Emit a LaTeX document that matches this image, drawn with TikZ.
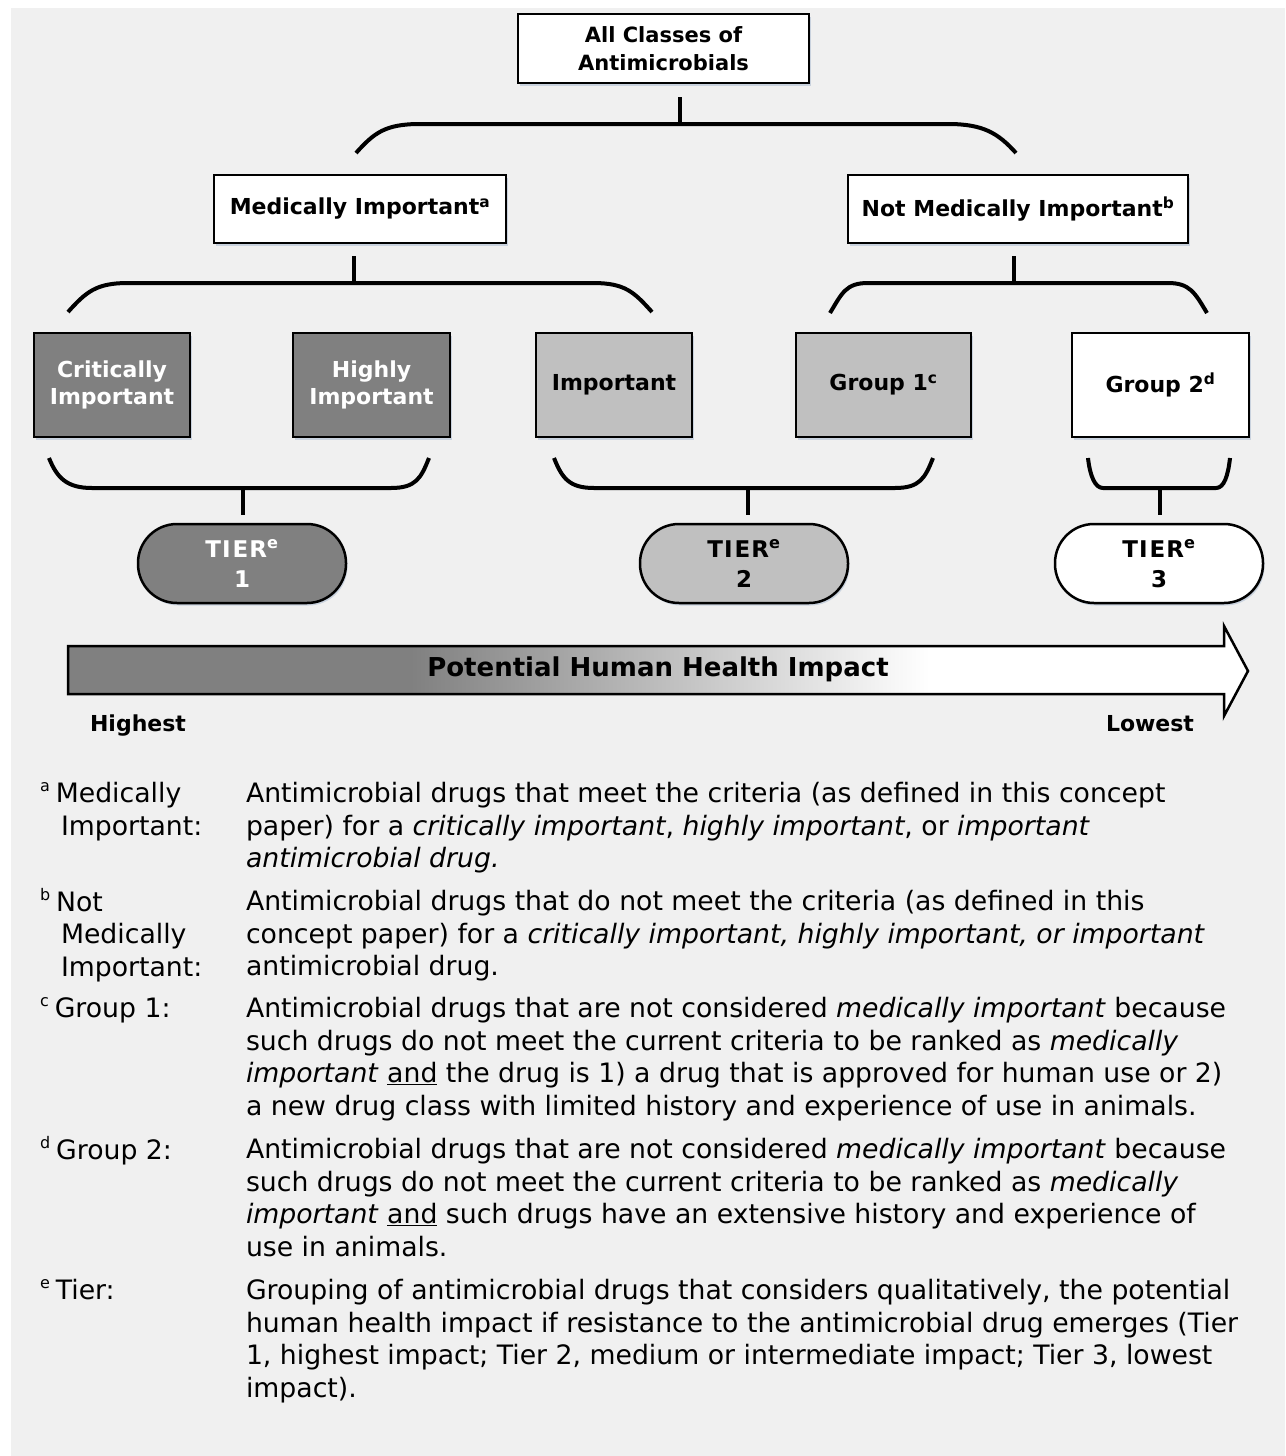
\documentclass[tikz,border=0pt]{standalone}
\usepackage{fontspec}
\setmainfont{DejaVu Sans}
\usetikzlibrary{shadows}
\definecolor{panel}{HTML}{F0F0F0}
\definecolor{dgray}{HTML}{808080}
\definecolor{lgray}{HTML}{C0C0C0}
\definecolor{shadowc}{HTML}{C9D2DE}
\pgfdeclarehorizontalshading{impact}{100bp}{color(0bp)=(dgray); color(39.5bp)=(dgray); color(61.5bp)=(white); color(100bp)=(white)}
\newcommand\fsup[1]{\raisebox{0.42em}{\fontsize{16}{16}\selectfont #1}}
\begin{document}
\begin{tikzpicture}[x=1pt,y=-1pt,
  box/.style={draw=black, line width=2.5pt, inner sep=0pt, outer sep=0pt, align=center,
    font=\fontsize{22}{27}\selectfont\bfseries,
    drop shadow={shadow xshift=1.5pt, shadow yshift=-2.5pt, fill=shadowc, opacity=1}},
  darkbox/.style={box, fill=dgray, text=white},
  lightbox/.style={box, fill=lgray},
  whitebox/.style={box, fill=white},
  pill/.style={minimum width=208pt, minimum height=79pt, rounded corners=39pt,
    font=\fontsize{23}{30}\selectfont\bfseries},
  conn/.style={line width=4pt},
  foot/.style={anchor=north west, inner sep=0pt, outer sep=0pt, align=left,
    font=\fontsize{26.7}{32.5}\selectfont},
  axislabel/.style={inner sep=0pt, anchor=base, font=\fontsize{22}{26}\selectfont\bfseries}]
\useasboundingbox (0,0) rectangle (1285,1456);
\fill[white] (0,0) rectangle (1285,1456);
\fill[panel] (11,8) rectangle (1285,1456);

% boxes
\node[whitebox, minimum width=291pt, minimum height=69pt, font=\fontsize{21}{28}\selectfont\bfseries]
  (top) at (663.5,48.5) {All Classes of\\Antimicrobials};
\node[whitebox, minimum width=292pt, minimum height=68pt] (mi) at (360,209)
  {Medically Important\textsuperscript{a}};
\node[whitebox, minimum width=340pt, minimum height=68pt] (nmi) at (1018,209)
  {Not Medically Important\textsuperscript{b}};
\node[darkbox, minimum width=156pt, minimum height=104pt] (crit) at (112,385) {Critically\\Important};
\node[darkbox, minimum width=157pt, minimum height=104pt] (high) at (371.5,385) {Highly\\Important};
\node[lightbox, minimum width=156pt, minimum height=104pt] (imp) at (614,385) {Important};
\node[lightbox, minimum width=175pt, minimum height=104pt] (g1) at (883.5,385) {Group 1\textsuperscript{c}};
\node[whitebox, minimum width=177pt, minimum height=104pt] (g2) at (1160.5,385) {Group 2\textsuperscript{d}};

% tiers
\node[darkbox, pill] (t1) at (242,563.5) {T\kern1ptI\kern2ptE\kern1ptR\textsuperscript{e}\\1};
\node[lightbox, pill] (t2) at (744,563.5) {T\kern1ptI\kern2ptE\kern1ptR\textsuperscript{e}\\2};
\node[whitebox, pill] (t3) at (1159,563.5) {T\kern1ptI\kern2ptE\kern1ptR\textsuperscript{e}\\3};

% top bracket
\coordinate (ts) at (680,97); \coordinate (tb) at (680,124);
\coordinate (tl) at (356,153); \coordinate (tl2) at (420,124);
\coordinate (tr2) at (948,124); \coordinate (tr) at (1016,153);
\draw[conn] (ts) -- (tb);
\draw[conn] (tl) .. controls +(18,-20) and +(-35,0) .. (tl2) -- (tr2) .. controls +(35,0) and +(-18,-20) .. (tr);

% medically important bracket
\coordinate (ms) at (354,256); \coordinate (mb) at (354,283);
\coordinate (ml) at (68,312); \coordinate (ml2) at (128,283);
\coordinate (mr2) at (593,283); \coordinate (mr) at (652,312);
\draw[conn] (ms) -- (mb);
\draw[conn] (ml) .. controls +(18,-20) and +(-32,0) .. (ml2) -- (mr2) .. controls +(32,0) and +(-18,-20) .. (mr);

% not medically important bracket
\coordinate (ns) at (1014,256); \coordinate (nb) at (1014,283);
\coordinate (nl) at (830,313); \coordinate (nl2) at (868,283);
\coordinate (nr2) at (1168,283); \coordinate (nr) at (1207,313);
\draw[conn] (ns) -- (nb);
\draw[conn] (nl) .. controls +(12,-20) and +(-22,0) .. (nl2) -- (nr2) .. controls +(22,0) and +(-12,-20) .. (nr);

% tier 1 bracket
\coordinate (al) at (49,458); \coordinate (al2) at (92,488);
\coordinate (ar2) at (391,488); \coordinate (ar) at (429,458);
\coordinate (as) at (243,488); \coordinate (ae) at (243,515);
\draw[conn] (al) .. controls +(8,20) and +(-25,0) .. (al2) -- (ar2) .. controls +(25,0) and +(-8,20) .. (ar);
\draw[conn] (as) -- (ae);

% tier 2 bracket
\coordinate (bl) at (554,458); \coordinate (bl2) at (594,488);
\coordinate (br2) at (895,488); \coordinate (br) at (933,458);
\coordinate (bs) at (748,488); \coordinate (be) at (748,515);
\draw[conn] (bl) .. controls +(8,20) and +(-25,0) .. (bl2) -- (br2) .. controls +(25,0) and +(-8,20) .. (br);
\draw[conn] (bs) -- (be);

% tier 3 bracket
\coordinate (cl) at (1088,458); \coordinate (cl2) at (1103,488);
\coordinate (cr2) at (1216,488); \coordinate (cr) at (1230,458);
\coordinate (cs) at (1160,488); \coordinate (ce) at (1160,515);
\draw[conn] (cl) .. controls +(2,18) and +(-8,0) .. (cl2) -- (cr2) .. controls +(8,0) and +(-2,18) .. (cr);
\draw[conn] (cs) -- (ce);

% impact arrow
\draw[line width=2.5pt, shading=impact, line join=miter]
  (68,646) -- (1224,646) -- (1224,626) -- (1248,671) -- (1224,716) -- (1224,694) -- (68,694) -- cycle;
\node[inner sep=0pt, font=\fontsize{26}{30}\selectfont\bfseries] (impact) at (658,669) {Potential Human Health Impact};
\node[axislabel] (hi) at (138,731) {Highest};
\node[axislabel] (lo) at (1150,731) {Lowest};

% footnotes: labels
\node[foot] (la) at (40,780) {\strut\fsup{a}\hspace{6pt}Medically\\\hspace*{21pt}Important:};
\node[foot] (lb) at (40,888) {\strut\fsup{b}\hspace{6pt}Not\\\hspace*{21pt}Medically\\\hspace*{21pt}Important:};
\node[foot] (lc) at (40,995) {\strut\fsup{c}\hspace{6pt}Group 1:};
\node[foot] (ld) at (40,1136) {\strut\fsup{d}\hspace{6pt}Group 2:};
\node[foot] (le) at (40,1277) {\strut\fsup{e}\hspace{6pt}Tier:};

% footnotes: texts
\node[foot] (fa) at (246,780) {\strut Antimicrobial drugs that meet the criteria (as defined in this concept\\
paper) for a \textit{critically important}, \textit{highly important}, or \textit{important}\\
\textit{antimicrobial drug.}};
\node[foot] (fb) at (246,888) {\strut Antimicrobial drugs that do not meet the criteria (as defined in this\\
concept paper) for a \textit{critically important, highly important, or important}\\
antimicrobial drug.};
\node[foot] (fc) at (246,995) {\strut Antimicrobial drugs that are not considered \textit{medically important} because\\
such drugs do not meet the current criteria to be ranked as \textit{medically}\\
\textit{important} \underline{and} the drug is 1) a drug that is approved for human use or 2)\\
a new drug class with limited history and experience of use in animals.};
\node[foot] (fd) at (246,1136) {\strut Antimicrobial drugs that are not considered \textit{medically important} because\\
such drugs do not meet the current criteria to be ranked as \textit{medically}\\
\textit{important} \underline{and} such drugs have an extensive history and experience of\\
use in animals.};
\node[foot] (fe) at (246,1277) {\strut Grouping of antimicrobial drugs that considers qualitatively, the potential\\
human health impact if resistance to the antimicrobial drug emerges (Tier\\
1, highest impact; Tier 2, medium or intermediate impact; Tier 3, lowest\\
impact).};
\end{tikzpicture}
\end{document}
